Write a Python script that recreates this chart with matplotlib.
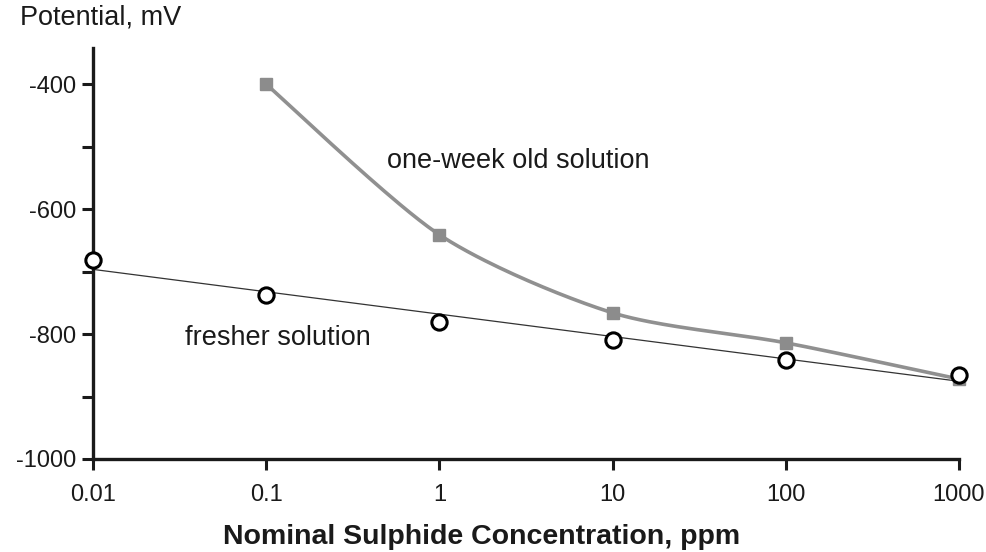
import numpy as np
import matplotlib
matplotlib.use("Agg")
import matplotlib.pyplot as plt

plt.rcParams['font.family'] = ['Liberation Sans', 'DejaVu Sans']

# Data
conc_old = [0.1, 1, 10, 100, 1000]
pot_old = [-400, -641, -766, -814, -872]
conc_fresh = [0.01, 0.1, 1, 10, 100, 1000]
pot_fresh = [-682, -738, -780, -810, -841, -865]
xticks = [0.01, 0.1, 1, 10, 100, 1000]
xticklabels = ['0.01', '0.1', '1', '10', '100', '1000']
yticks = [-1000, -900, -800, -700, -600, -500, -400]
yticklabels = ['-1000', '', '-800', '', '-600', '', '-400']


def cardinal(xs, ys, tension=0.2, n=40):
    xs = np.asarray(xs, float); ys = np.asarray(ys, float)
    P = np.column_stack([xs, ys])
    m = np.zeros_like(P)
    for i in range(len(P)):
        a = P[max(i - 1, 0)]; c = P[min(i + 1, len(P) - 1)]
        m[i] = (1 - tension) * (c - a) / 2
    t = np.linspace(0, 1, n)[:, None]
    h00 = 2 * t ** 3 - 3 * t ** 2 + 1
    h10 = t ** 3 - 2 * t ** 2 + t
    h01 = -2 * t ** 3 + 3 * t ** 2
    h11 = t ** 3 - t ** 2
    out = []
    for i in range(len(P) - 1):
        out.append(h00 * P[i] + h10 * m[i] + h01 * P[i + 1] + h11 * m[i + 1])
    out = np.vstack(out)
    return out[:, 0], out[:, 1]


fig = plt.figure(figsize=(9.86, 5.52), dpi=100)
ax = fig.add_axes([93 / 986, 1 - 459 / 552, (959 - 93) / 986, (459 - 48) / 552])

# fresher solution: linear regression in log-x
lx = np.log10(conc_fresh)
k, b = np.polyfit(lx, pot_fresh, 1)
xl = np.linspace(lx.min(), lx.max(), 50)
ax.plot(10 ** xl, k * xl + b, color='#333333', lw=0.9, zorder=2)

# one-week old solution: smooth curve
sx, sy = cardinal(np.log10(conc_old), pot_old)
ax.plot(10 ** sx, sy, color='#909090', lw=2.6, zorder=3, solid_capstyle='butt')
ax.plot(conc_old, pot_old, ls='none', marker='s', ms=8.5, mfc='#8c8c8c', mec='#8c8c8c',
        zorder=4, clip_on=False)
ax.plot(conc_fresh, pot_fresh, ls='none', marker='o', ms=11, mfc='white', mec='black',
        mew=2.2, zorder=5, clip_on=False)

ax.set_xscale('log')
ax.set_xlim(0.01, 1000)
ax.set_ylim(-1000, -342)
ax.set_xticks(xticks)
ax.set_xticklabels(xticklabels)
ax.minorticks_off()
ax.set_yticks(yticks)
ax.set_yticklabels(yticklabels)

for s in ['top', 'right']:
    ax.spines[s].set_visible(False)
for s in ['left', 'bottom']:
    ax.spines[s].set_linewidth(2.4)
    ax.spines[s].set_color('#1a1a1a')
ax.tick_params(axis='both', direction='out', length=8, width=2.2, color='#1a1a1a',
               labelsize=17, labelcolor='#1a1a1a')
ax.tick_params(axis='x', pad=10)
ax.tick_params(axis='y', pad=4)

ax.text(0.5, -523, 'one-week old solution', fontsize=19.5, color='#1a1a1a', va='center', ha='left')
ax.text(0.034, -806, 'fresher solution', fontsize=19.5, color='#1a1a1a', va='center', ha='left')

fig.text(20 / 986, 1 - 18 / 552, 'Potential, mV', fontsize=19.5, color='#1a1a1a', va='center', ha='left')
fig.text(482 / 986, 1 - 537 / 552, 'Nominal Sulphide Concentration, ppm', fontsize=20.5,
         fontweight='bold', color='#1a1a1a', va='center', ha='center')

fig.savefig('out.png', dpi=100)
